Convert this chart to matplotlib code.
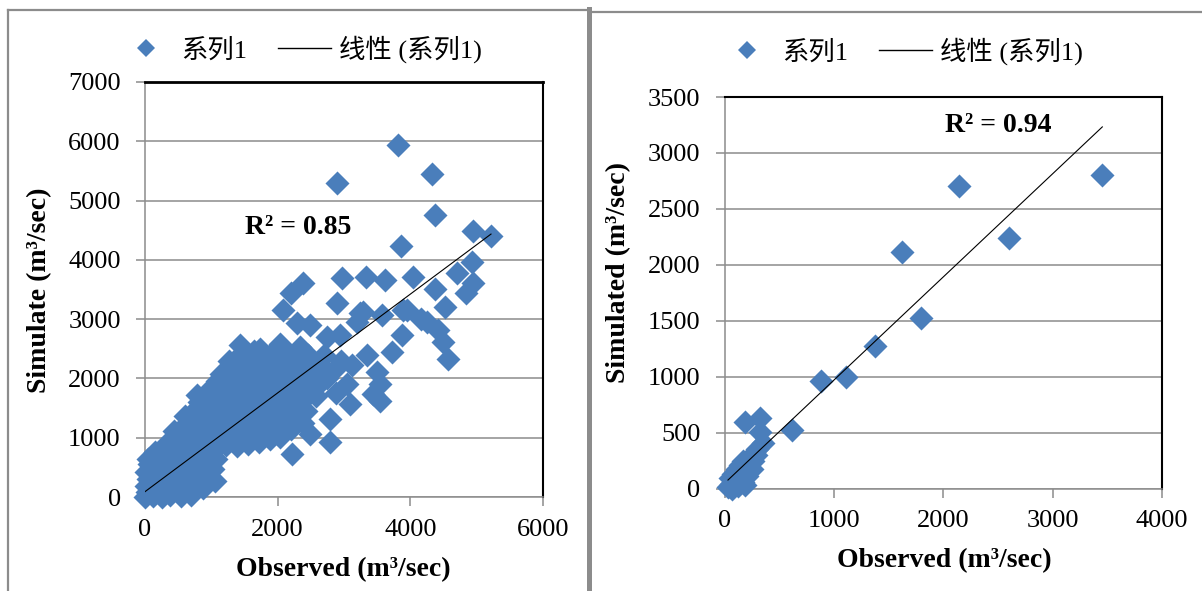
import matplotlib
matplotlib.use('Agg')
import matplotlib.pyplot as plt
from matplotlib.lines import Line2D

plt.rcParams['font.family'] = ['Liberation Serif', 'Noto Sans CJK SC']

# left chart: observed vs simulate (m3/sec)
left_pts = [
    (0, 0), (30, 80), (10, 190), (50, 310), (20, 430), (60, 560), (40, 640),
    (120, 20), (150, 140), (110, 270), (170, 400), (130, 520), (190, 650), (150, 760),
    (250, 0), (280, 110), (240, 240), (300, 370), (260, 500), (310, 630), (280, 780), (320, 900),
    (380, 30), (420, 170), (390, 310), (440, 450), (400, 600), (460, 740), (420, 880), (470, 1010), (430, 1120),
    (540, 10), (570, 150), (530, 290), (590, 420), (550, 570), (610, 710), (560, 850), (620, 990),
    (580, 1130), (640, 1250), (600, 1370),
    (700, 40), (730, 180), (690, 330), (750, 470), (710, 620), (770, 760), (720, 900), (780, 1050),
    (740, 1190), (800, 1330), (760, 1470), (810, 1610), (780, 1720),
    (880, 150), (910, 320), (860, 560), (920, 700), (880, 850), (940, 990), (890, 1130), (950, 1270),
    (900, 1410), (960, 1560), (920, 1700), (980, 1830),
    (1050, 270), (1030, 480), (1070, 640), (1040, 790), (1100, 930), (1060, 1080), (1110, 1220),
    (1070, 1370), (1120, 1510), (1080, 1660), (1130, 1800), (1090, 1950), (1150, 2080),
    (1220, 880), (1260, 1020), (1210, 1170), (1270, 1310), (1230, 1460), (1280, 1600), (1240, 1750),
    (1290, 1890), (1250, 2040), (1300, 2180), (1270, 2300),
    (1380, 860), (1420, 1000), (1370, 1150), (1430, 1290), (1390, 1440), (1440, 1580), (1400, 1730),
    (1450, 1870), (1410, 2020), (1460, 2160), (1420, 2310), (1478, 2450), (1433, 2560),
    (1550, 900), (1590, 1050), (1540, 1200), (1600, 1340), (1560, 1490), (1610, 1630), (1570, 1780),
    (1620, 1920), (1580, 2070), (1630, 2210), (1590, 2350), (1640, 2470),
    (1720, 930), (1760, 1080), (1710, 1230), (1770, 1370), (1730, 1520), (1780, 1660), (1740, 1810),
    (1790, 1950), (1750, 2100), (1800, 2240), (1734, 2503), (1780, 2380),
    (1880, 980), (1920, 1130), (1870, 1280), (1930, 1420), (1890, 1570), (1940, 1710), (1900, 1860),
    (1950, 2000), (1910, 2150), (1960, 2290), (1920, 2430),
    (2040, 1020), (2080, 1200), (2030, 1350), (2090, 1500), (2050, 1650), (2100, 1800), (2060, 1950),
    (2110, 2100), (2070, 2250), (2120, 2400), (2036, 2588),
    (2200, 1150), (2250, 1300), (2190, 1460), (2260, 1610), (2210, 1770), (2270, 1920), (2220, 2080),
    (2280, 2230), (2240, 2380), (2337, 2531),
    (2380, 1250), (2420, 1450), (2370, 1620), (2430, 1780), (2390, 1940), (2450, 2100), (2400, 2250),
    (2460, 2400),
    (2212, 723), (2488, 1062), (2790, 921), (2790, 1317), (2580, 1700), (2620, 1900), (2560, 2080),
    (2640, 2250), (2740, 2000), (2700, 2400), (2880, 1750), (2850, 2150), (2950, 2300), (3041, 1910),
    (3117, 2221), (3091, 1571), (2940, 2729), (2740, 2700), (2488, 2898), (2287, 2927), (2086, 3153),
    (2200, 3446), (2387, 3605), (2891, 3266),
    (2975, 3690), (3327, 3718), (3618, 3661), (4045, 3718), (3291, 3124), (3191, 2955), (3568, 3068),
    (3894, 3153), (3946, 3153), (4247, 2955), (4422, 2814), (4497, 2616), (4572, 2333), (3870, 2729),
    (3720, 2446), (3343, 2390), (3494, 2107), (3544, 1910), (3443, 1741), (3544, 1627), (4160, 3000),
    (4372, 3503), (4840, 3435), (4950, 3605), (4699, 3774), (4523, 3209), (4935, 3971), (4940, 4480),
    (5216, 4395), (3860, 4226), (4372, 4763), (4332, 5452), (2900, 5300), (3820, 5932), (3242, 3097),
]
left_slope, left_icpt = 0.833, 90
left_r2 = 'R² = 0.85'

# right chart: observed vs simulated
right_pts = [
    (30, 10), (60, 40), (45, 90), (90, 60), (80, 130), (120, 100), (110, 170), (150, 140),
    (140, 210), (180, 190), (170, 250), (210, 230), (230, 280), (260, 250), (290, 300),
    (120, 20), (170, 60), (200, 110), (250, 170), (190, 30), (70, 0), (300, 350), (347, 410),
    (323, 508), (186, 598), (323, 628), (617, 526), (881, 958), (1106, 998), (1374, 1278),
    (1791, 1528), (1623, 2118), (2598, 2239), (2141, 2708), (3454, 2802),
]
right_slope, right_icpt = 0.922, 48
right_r2 = 'R² = 0.94'

legend_labels = ['系列1', '线性 (系列1)']

W, H = 1202, 591
blue = '#4A7EBB'
grey = '#8c8c8c'

fig = plt.figure(figsize=(W / 100, H / 100), dpi=100)


def px(x, y):
    return x / W, 1 - y / H


def setup(ax, xmax, ymax, xstep, ystep, top_lw):
    ax.set_xlim(0, xmax)
    ax.set_ylim(0, ymax)
    ax.set_xticks(range(0, xmax + 1, xstep))
    ax.set_yticks(range(0, ymax + 1, ystep))
    ax.grid(axis='y', color=grey, lw=1.1)
    ax.set_axisbelow(True)
    for s in ['left', 'bottom']:
        ax.spines[s].set_color(grey)
        ax.spines[s].set_linewidth(1.1)
    ax.spines['top'].set_color('black')
    ax.spines['top'].set_linewidth(top_lw)
    ax.spines['right'].set_color('black')
    ax.spines['right'].set_linewidth(1.5)
    ax.tick_params(direction='out', length=6.5, width=1.1, color=grey, labelsize=19)
    ax.tick_params(axis='y', pad=11)
    ax.tick_params(axis='x', pad=9)


def draw(ax, pts, slope, icpt, r2, r2pos):
    xs = [p[0] for p in pts]
    ys = [p[1] for p in pts]
    ax.scatter(xs, ys, marker='D', s=150, color=blue, linewidths=0, clip_on=False, zorder=3)
    x0, x1 = min(xs), max(xs)
    ax.plot([x0, x1], [slope * x0 + icpt, slope * x1 + icpt], color='black', lw=0.8, zorder=4)
    ax.text(r2pos[0], r2pos[1], r2, fontsize=20, fontweight='bold', va='center', ha='left')


ax1 = fig.add_axes([145 / W, 1 - 497 / H, 398 / W, 415 / H])
setup(ax1, 6000, 7000, 2000, 1000, 2.0)
draw(ax1, left_pts, left_slope, left_icpt, left_r2, (1508, 4543))

ax2 = fig.add_axes([724.7 / W, 1 - 488.5 / H, 437.3 / W, 391.5 / H])
setup(ax2, 4000, 3500, 1000, 500, 1.5)
draw(ax2, right_pts, right_slope, right_icpt, right_r2, (2014, 3241))

fig.text(*px(40, 290), 'Simulate (m³/sec)', rotation=90, fontsize=20, fontweight='bold', ha='center', va='center')
fig.text(*px(343, 570), 'Observed (m³/sec)', fontsize=20, fontweight='bold', ha='center', va='center')
fig.text(*px(619, 273), 'Simulated (m³/sec)', rotation=90, fontsize=20, fontweight='bold', ha='center', va='center')
fig.text(*px(944, 561), 'Observed (m³/sec)', fontsize=20, fontweight='bold', ha='center', va='center')

handles = [Line2D([], [], marker='D', ls='none', color=blue, markersize=9, mew=0),
           Line2D([], [], color='black', lw=1)]
for cx, cy in [(301, 49), (902, 51)]:
    fig.legend(handles, legend_labels, loc='center', bbox_to_anchor=px(cx, cy), ncol=2,
               frameon=False, fontsize=19, handlelength=2.0, handletextpad=0.3, columnspacing=1.2)

# panel frames
fig.add_artist(Line2D([8 / W, 8 / W], [0, 1 - 10 / H], transform=fig.transFigure, color=grey, lw=1.6))
fig.add_artist(Line2D([8 / W, 588 / W], [1 - 10 / H, 1 - 10 / H], transform=fig.transFigure, color=grey, lw=1.6))
fig.add_artist(Line2D([588.5 / W, 588.5 / W], [0, 1 - 9 / H], transform=fig.transFigure, color=grey, lw=3.6))
fig.add_artist(Line2D([590 / W, 1], [1 - 12 / H, 1 - 12 / H], transform=fig.transFigure, color=grey, lw=1.6))

fig.savefig('out.png', dpi=100)
